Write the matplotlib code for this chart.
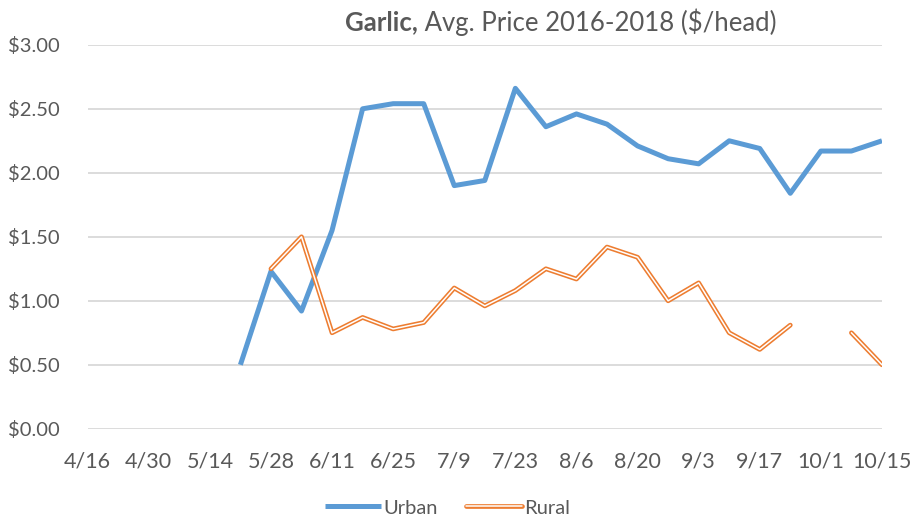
import numpy as np
import matplotlib.pyplot as plt
import matplotlib.patheffects as pe

plt.rcParams["font.family"] = ["Lato", "DejaVu Sans"]

weeks = ["4/16", "4/23", "4/30", "5/7", "5/14", "5/21", "5/28", "6/4", "6/11",
         "6/18", "6/25", "7/2", "7/9", "7/16", "7/23", "7/30", "8/6", "8/13",
         "8/20", "8/27", "9/3", "9/10", "9/17", "9/24", "10/1", "10/8", "10/15"]
nan = np.nan
urban = [nan, nan, nan, nan, nan, 0.50, 1.23, 0.92, 1.55, 2.50, 2.54, 2.54,
         1.90, 1.94, 2.66, 2.36, 2.46, 2.38, 2.21, 2.11, 2.07, 2.25, 2.19,
         1.84, 2.17, 2.17, 2.25]
rural = [nan, nan, nan, nan, nan, nan, 1.25, 1.50, 0.75, 0.87, 0.78, 0.83,
         1.10, 0.96, 1.08, 1.25, 1.17, 1.42, 1.34, 1.00, 1.14, 0.75, 0.62,
         0.81, nan, 0.75, 0.50]

blue = "#5B9BD5"
orange = "#ED7D31"
grey = "#595959"
fs = 14.5

fig = plt.figure(figsize=(9.13, 5.21), dpi=100)
ax = fig.add_axes([0.096, 0.177, 0.870, 0.737])

x = np.arange(len(weeks))
ax.plot(x, urban, color=blue, lw=3.6, solid_joinstyle="round",
        solid_capstyle="butt", label="Urban", zorder=3)
# double line: orange outline with white core
ax.plot(x, rural, color="white", lw=1.1, solid_joinstyle="round",
        solid_capstyle="round", label="Rural", zorder=4,
        path_effects=[pe.Stroke(linewidth=3.4, foreground=orange), pe.Normal()])

ax.set_xlim(0, len(weeks) - 1)
ax.set_ylim(0, 3)
yt = np.arange(0, 3.01, 0.5)
ax.set_yticks(yt)
ax.set_yticklabels([f"${v:.2f}" for v in yt])
ax.set_xticks(x[::2])
ax.set_xticklabels(weeks[::2])
ax.tick_params(length=0, colors=grey)
ax.tick_params(axis="y", pad=20, labelsize=fs)
ax.tick_params(axis="x", pad=16, labelsize=15.5)
ax.grid(axis="y", color="#d9d9d9", lw=1.3)
ax.set_axisbelow(True)
for s in ax.spines.values():
    s.set_visible(False)

# title: bold "Garlic," + regular rest, centred around x=561px
t1 = fig.text(0, 0.958, "Garlic,", fontsize=18.5, fontweight="bold",
              color=grey, ha="left", va="center")
t2 = fig.text(0, 0.958, " Avg. Price 2016-2018 ($/head)", fontsize=18.5,
              color=grey, ha="left", va="center")
fig.canvas.draw()
r = fig.canvas.get_renderer()
w1 = t1.get_window_extent(r).width
w2 = t2.get_window_extent(r).width
x0 = 561 - (w1 + w2) / 2
t1.set_x(x0 / 913)
t2.set_x((x0 + w1) / 913)

leg = fig.legend(loc="center", bbox_to_anchor=(0.49, 0.025), ncol=2,
                 frameon=False, fontsize=fs, handlelength=2.8,
                 handletextpad=0.1, columnspacing=1.4)
for t in leg.get_texts():
    t.set_color(grey)

fig.savefig("out.png", dpi=100)
